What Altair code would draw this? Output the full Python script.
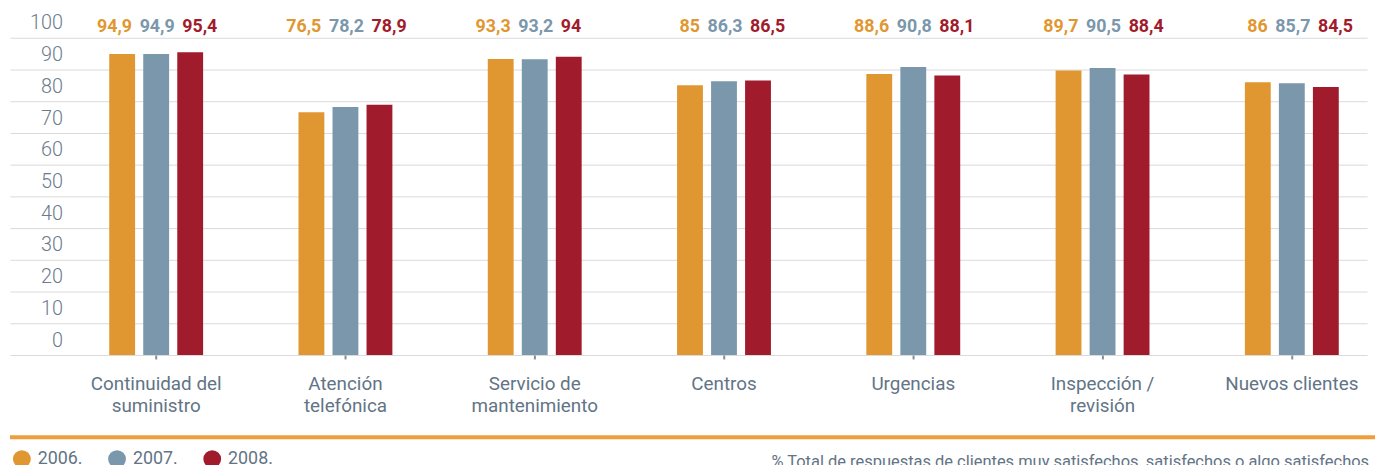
import altair as alt
import pandas as pd

categories = [
    "Continuidad del\nsuministro",
    "Atención\ntelefónica",
    "Servicio de\nmantenimiento",
    "Centros",
    "Urgencias",
    "Inspección /\nrevisión",
    "Nuevos clientes",
]
years = ["2006", "2007", "2008"]
v2006 = [94.9, 76.5, 93.3, 85, 88.6, 89.7, 86]
v2007 = [94.9, 78.2, 93.2, 86.3, 90.8, 90.5, 85.7]
v2008 = [95.4, 78.9, 94, 86.5, 88.1, 88.4, 84.5]
colors = ["#e19731", "#7b97ab", "#a01b2b"]
footnote = "% Total de respuestas de clientes muy satisfechos, satisfechos o algo satisfechos"

rows = []
for y, vals in zip(years, [v2006, v2007, v2008]):
    for c, v in zip(categories, vals):
        rows.append({"categoria": c, "anio": y, "valor": v})
df = pd.DataFrame(rows)

W = 1369
H = 320
txt_col = "#627486"
font = "Roboto"

xenc = alt.X(
    "categoria:N",
    sort=categories,
    title=None,
    scale=alt.Scale(paddingInner=0.504, paddingOuter=0.337, align=0.778),
    axis=alt.Axis(
        labelExpr="split(datum.label, '\\n')",
        labelAngle=0,
        labelFont=font,
        labelFontSize=19,
        labelColor=txt_col,
        labelLineHeight=22,
        labelPadding=16,
        tickSize=4,
        tickWidth=2,
        tickColor="#7b8fa3",
        domain=False,
        grid=False,
    ),
)
xoff = alt.XOffset("anio:N", sort=years, scale=alt.Scale(paddingInner=0.24, paddingOuter=0))
yscale = alt.Scale(domain=[0, 100], nice=False)
yaxis = alt.Axis(
    values=list(range(0, 101, 10)),
    tickCount=11,
    domain=False,
    ticks=False,
    grid=True,
    gridColor="#dadada",
    gridWidth=1,
    labelFont=font,
    labelFontSize=20,
    labelFontWeight=300,
    labelColor="#6b7b8c",
    labelAlign="right",
    labelBaseline="middle",
    labelPadding=-53,
    labelOffset=-15,
    labelFlush=False,
    labelOverlap=False,
)
color = alt.Color(
    "anio:N",
    sort=years,
    scale=alt.Scale(domain=years, range=colors),
    legend=alt.Legend(
        title=None,
        orient="none",
        direction="horizontal",
        legendX=3,
        legendY=416,
        symbolType="circle",
        symbolSize=324,
        symbolStrokeWidth=0,
        symbolOpacity=1,
        labelExpr="datum.label + '.'",
        labelFont=font,
        labelFontSize=18,
        labelColor=txt_col,
        labelOffset=7,
        columnPadding=25,
        padding=0,
    ),
)

base = alt.Chart(df)

bars = base.mark_bar().encode(
    x=xenc,
    xOffset=xoff,
    y=alt.Y("valor:Q", title=None, scale=yscale, axis=yaxis),
    color=color,
)

label_pos = {"2006": ("right", 10), "2007": ("center", 1), "2008": ("left", -8)}
texts = []
for y, col in zip(years, colors):
    al, dx = label_pos[y]
    t = (
        base.transform_filter(alt.datum.anio == y)
        .transform_calculate(lab="replace(toString(datum.valor), '.', ',')", top="100")
        .mark_text(
            font=font,
            fontSize=18,
            fontWeight="bold",
            align=al,
            baseline="middle",
            dx=dx,
            dy=-11,
            color=col,
        )
        .encode(
            x=alt.X("categoria:N", sort=categories),
            xOffset=xoff,
            y=alt.Y("top:Q", title=None, scale=yscale, axis=yaxis),
            text="lab:N",
        )
    )
    texts.append(t)

one = pd.DataFrame({"k": [0]})
rule = alt.Chart(one).mark_rule(color="#ee9e3b", strokeWidth=4).encode(
    x=alt.value(0), x2=alt.value(W + 8), y=alt.value(403)
)
note = alt.Chart(one).mark_text(
    font=font, fontSize=16.6, color=txt_col, align="right", baseline="middle"
).encode(x=alt.value(1371), y=alt.value(428), text=alt.value(footnote))

chart = (
    alt.layer(bars, *texts, rule, note)
    .properties(width=W, height=H, padding={"left": 0, "top": 3, "right": 0, "bottom": 0})
    .configure_view(stroke=None)
)

chart.save("out.html", embed_options={"renderer": "svg", "actions": False})
